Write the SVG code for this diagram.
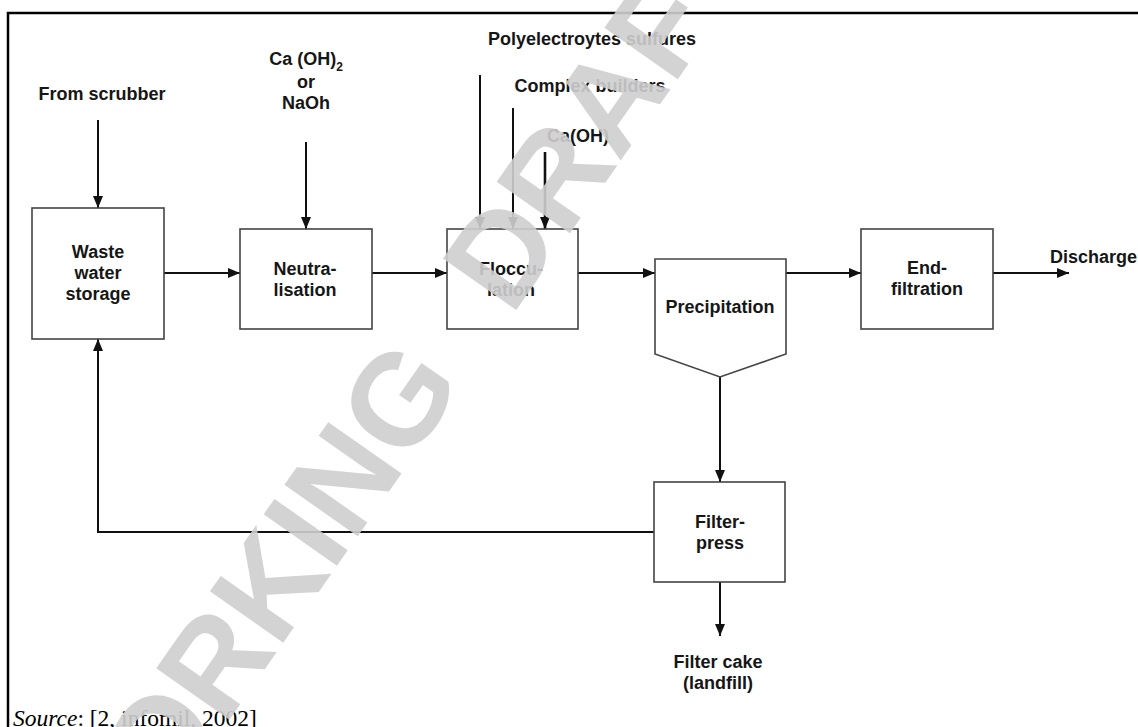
<svg xmlns="http://www.w3.org/2000/svg" width="1138" height="727" viewBox="0 0 1138 727">
  <defs>
    <marker id="arrow" markerUnits="userSpaceOnUse" markerWidth="12" markerHeight="12" viewBox="0 0 12 12" refX="12" refY="6" orient="auto">
      <path d="M0,1 L12,6 L0,11 Z" fill="#111"/>
    </marker>
    <style>
      .box { fill: #fff; stroke: #444; stroke-width: 1.6; }
      .lbl { font-family: "Liberation Sans", Arial, sans-serif; font-size: 18px; font-weight: bold; fill: #161616; text-anchor: middle; }
      .lblL { font-family: "Liberation Sans", Arial, sans-serif; font-size: 18px; font-weight: bold; fill: #161616; }
      .arr { fill: none; stroke: #111; stroke-width: 2; marker-end: url(#arrow); }
      .frame { fill: none; stroke: #000; stroke-width: 2.5; }
      .src { font-family: "Liberation Serif", "Times New Roman", serif; font-size: 23.5px; fill: #000; }
      .mark { font-family: "Liberation Sans", Arial, sans-serif; font-size: 130px; font-weight: bold; word-spacing: 45px; fill: #cfcfcf; opacity: 0.9; }
    </style>
  </defs>

  <rect width="1138" height="727" fill="#fff"/>

  <!-- page frame -->
  <path class="frame" d="M1138,13 H8 V727"/>

  <!-- connectors -->
  <g id="connectors">
    <line class="arr" x1="98" y1="120" x2="98" y2="208"/>
    <line class="arr" x1="306" y1="142" x2="306" y2="229"/>
    <line class="arr" x1="480" y1="75" x2="480" y2="229"/>
    <line class="arr" x1="513" y1="108" x2="513" y2="229"/>
    <line class="arr" x1="545" y1="152" x2="545" y2="229" style="stroke-width:2.6"/>
    <line class="arr" x1="164" y1="273" x2="240" y2="273"/>
    <line class="arr" x1="372" y1="273" x2="447" y2="273"/>
    <line class="arr" x1="578" y1="273" x2="655" y2="273"/>
    <line class="arr" x1="786" y1="273" x2="861" y2="273"/>
    <line class="arr" x1="993" y1="273" x2="1069" y2="273"/>
    <line class="arr" x1="720" y1="377" x2="720" y2="482"/>
    <line class="arr" x1="720" y1="582" x2="720" y2="636"/>
    <polyline class="arr" points="654,532 98,532 98,339"/>
  </g>

  <!-- input and output labels -->
  <g id="labels">
    <text class="lbl" x="102" y="100">From scrubber</text>
    <text class="lbl" x="306" y="65">Ca (OH)<tspan font-size="12" dy="6">2</tspan></text>
    <text class="lbl" x="306" y="88">or</text>
    <text class="lbl" x="306" y="109">NaOh</text>
    <text class="lbl" x="592" y="45">Polyelectroytes sulfures</text>
    <text class="lbl" x="590" y="92">Complex builders</text>
    <text class="lbl" x="578" y="142">Ca(OH)</text>
    <text class="lblL" x="1050" y="263">Discharge</text>
    <text class="lbl" x="718" y="668">Filter cake</text>
    <text class="lbl" x="718" y="689">(landfill)</text>
  </g>

  <g id="storage">
    <rect class="box" x="32" y="208" width="132" height="131"/>
    <text class="lbl" x="98" y="258">Waste</text>
    <text class="lbl" x="98" y="279">water</text>
    <text class="lbl" x="98" y="300">storage</text>
  </g>

  <g id="neutralisation">
    <rect class="box" x="240" y="229" width="132" height="100"/>
    <text class="lbl" x="305" y="275">Neutra-</text>
    <text class="lbl" x="305" y="296">lisation</text>
  </g>

  <g id="flocculation">
    <rect class="box" x="447" y="229" width="131" height="100"/>
    <text class="lbl" x="511" y="275">Floccu-</text>
    <text class="lbl" x="511" y="296">lation</text>
  </g>

  <g id="precipitation">
    <path class="box" d="M655,259 H786 V354 L720,377 L655,354 Z"/>
    <text class="lbl" x="720" y="313">Precipitation</text>
  </g>

  <g id="endfiltration">
    <rect class="box" x="861" y="229" width="132" height="100"/>
    <text class="lbl" x="927" y="274">End-</text>
    <text class="lbl" x="927" y="295">filtration</text>
  </g>

  <g id="filterpress">
    <rect class="box" x="654" y="482" width="131" height="100"/>
    <text class="lbl" x="720" y="528">Filter-</text>
    <text class="lbl" x="720" y="549">press</text>
  </g>

  <text class="src" x="13" y="726"><tspan font-style="italic">Source</tspan>: [2, infomil, 2002]</text>

  <!-- draft stamp across the page -->
  <text class="mark" transform="translate(96,910) rotate(-55)">WORKING DRAFT</text>
</svg>
